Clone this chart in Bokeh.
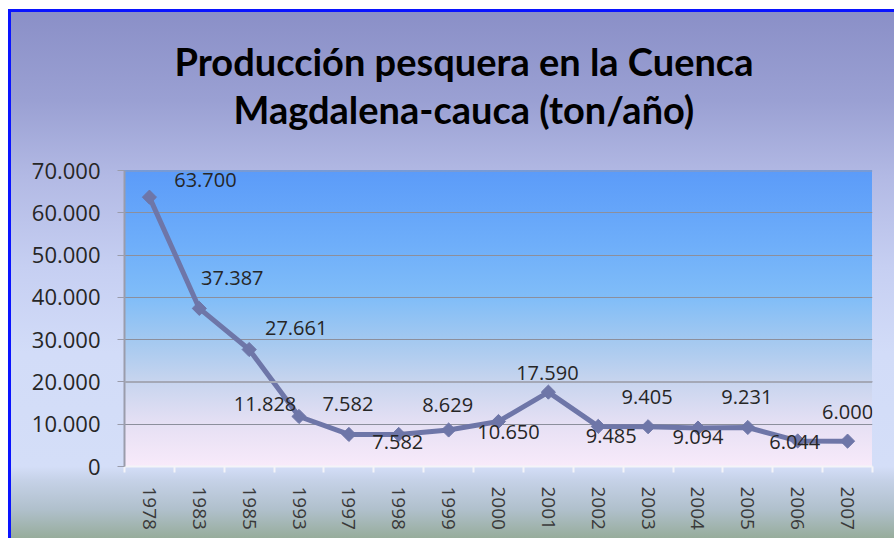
from bokeh.plotting import figure
from bokeh.models import (ColumnDataSource, Range1d, FixedTicker, Span, Title)
from bokeh.core.properties import value
from bokeh.embed import file_html
from bokeh.resources import INLINE

# ---------------- data ----------------
years = ["1978", "1983", "1985", "1993", "1997", "1998", "1999", "2000",
         "2001", "2002", "2003", "2004", "2005", "2006", "2007"]
production = [63700, 37387, 27661, 11828, 7582, 7582, 8629, 10650,
              17590, 9485, 9405, 9094, 9231, 6044, 6000]
value_labels = ["63.700", "37.387", "27.661", "11.828", "7.582", "7.582", "8.629",
                "10.650", "17.590", "9.485", "9.405", "9.094", "9.231", "6.044", "6.000"]
y_ticks = [0, 10000, 20000, 30000, 40000, 50000, 60000, 70000]
y_tick_labels = ["0", "10.000", "20.000", "30.000", "40.000", "50.000", "60.000", "70.000"]
title_lines = ["Producción pesquera en la Cuenca", "Magdalena-cauca (ton/año)"]

# label placement (screen pixels, +down)
label_dx = [56, 33, 47, -34, -1, -1, -1, 10, -1, 13, -1, 0, -1, -3, 0]
label_dy = [-17, -30, -22, -12, -30, 8, -25, 11, -19, 10, -30, 9, -30, 1, -29]

n = len(years)
pos = list(range(n))  # category slots
src = ColumnDataSource(dict(x=pos, year=years, prod=production, lbl=value_labels,
                            dx=label_dx, dy=label_dy))

W, H = 894, 538
L, R, T, B = 124, 22, 170, 72
FW, FH = W - L - R, H - T - B

outer = ("linear-gradient(to bottom, #8a8fc7 0%, #9aa0d3 17%, #b2b9e4 31%, "
         "#c6cff2 48%, #d2dcf8 64%, #d4def8 85%, #c6d2e8 87.5%, #b0c0cc 93%, #8fa68c 100%)")
inner = ("linear-gradient(to bottom, #5b9bf9 0%, #6eaefa 25%, #80bdf8 43%, #a2c8f0 57%, "
         "#c6d4ee 71%, #e6e0f4 86%, #f8eafa 100%)")
blue = "linear-gradient(#0a14ff,#0a14ff)"
bg = (f"{blue} 8px 9px / 100% 3px no-repeat, "
      f"{blue} 8px 9px / 3px 100% no-repeat, "
      f"{inner} {L}px {T}px / {FW}px {FH}px no-repeat, "
      f"{outer} 8px 9px / 100% 100% no-repeat #ffffff")

p = figure(width=W, height=H,
           x_range=Range1d(-0.5, n - 0.5),
           y_range=Range1d(0, 70000),
           output_backend="svg", toolbar_location=None,
           min_border_left=L, min_border_right=R, min_border_top=T, min_border_bottom=B,
           background_fill_color=None, border_fill_color=None,
           outline_line_color=None)
p.styles = {"background": bg}

# y axis
ax = p.yaxis[0]
ax.ticker = FixedTicker(ticks=y_ticks)
ax.major_label_overrides = {t: s for t, s in zip(y_ticks, y_tick_labels)}
ax.axis_line_color = "#9a9cab"
ax.axis_line_width = 2
ax.major_tick_line_color = "#9a9cab"
ax.major_tick_out = 7
ax.major_tick_in = 0
ax.minor_tick_line_color = None
ax.major_label_standoff = 17
ax.major_label_text_font = "Open Sans"
ax.major_label_text_font_size = "22px"
ax.major_label_text_color = "#262626"

p.ygrid.ticker = FixedTicker(ticks=y_ticks[1:-1])
p.ygrid.grid_line_color = "#8c8f9c"
p.ygrid.grid_line_width = 1
p.xgrid.grid_line_color = None

p.add_layout(Span(location=70000, dimension="width", line_color="#959ab0", line_width=2))
p.add_layout(Span(location=20000, dimension="width", line_color="#a4a8b6", line_width=2))

# x axis: labels at slot centres, white tick marks at slot boundaries
xa = p.xaxis[0]
xa.ticker = FixedTicker(ticks=pos, minor_ticks=[i - 0.5 for i in range(n + 1)])
xa.major_label_overrides = {i: y for i, y in zip(pos, years)}
xa.major_label_orientation = "vertical"
xa.major_tick_line_color = None
xa.major_tick_out = 0
xa.major_tick_in = 0
xa.minor_tick_line_color = "#f4f4f8"
xa.minor_tick_line_width = 2
xa.minor_tick_out = 6
xa.minor_tick_in = 0
xa.axis_line_color = "#f4f4f8"
xa.axis_line_width = 2
xa.major_label_standoff = 14
xa.major_label_text_font = "Open Sans"
xa.major_label_text_font_size = "19px"
xa.major_label_text_color = "#3a3a3a"

# series
col = "#6e76a8"
p.line(x="x", y="prod", source=src, line_width=5, line_color=col)
p.scatter(x="x", y="prod", source=src, marker="square", angle=0.785, size=10,
          fill_color=col, line_color=col)
p.text(x="x", y="prod", text="lbl", x_offset="dx", y_offset="dy", source=src,
       text_align="center", text_baseline="middle",
       text_font=value("Open Sans"), text_font_size="20px", text_color="#262626")

# title: a thin spacer panel next to the plot, then line 2, then line 1
p.add_layout(Title(text=" ", text_font_size="1px", standoff=36), "above")
for txt, off in zip(reversed(title_lines), [109, 50]):
    p.add_layout(Title(text=txt, align="left", offset=off, standoff=0,
                       text_font="Lato", text_font_style="bold",
                       text_font_size="38px", text_color="#000000"), "above")

open("out.html", "w").write(file_html(p, INLINE))
